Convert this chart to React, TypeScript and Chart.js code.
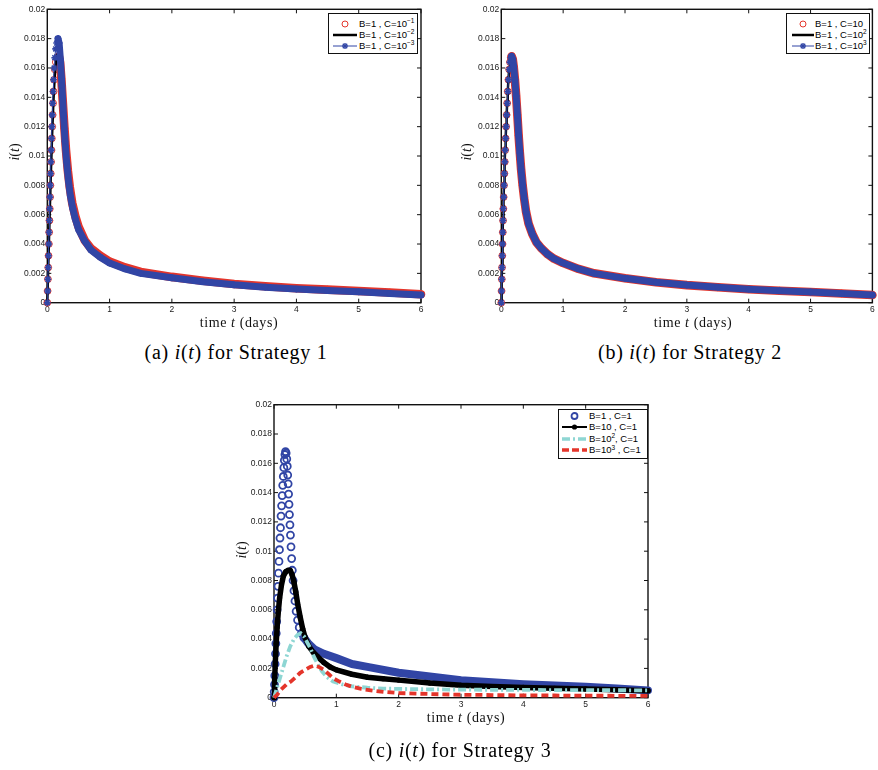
import React, { useEffect, useRef } from 'react';
import { Chart, registerables } from 'chart.js';
Chart.register(...registerables);

// ---------------- axes ----------------
const xTickValues = [0, 1, 2, 3, 4, 5, 6];
const xTickLabels = ['0', '1', '2', '3', '4', '5', '6'];
const yTickValues = [0, 0.002, 0.004, 0.006, 0.008, 0.01, 0.012, 0.014, 0.016, 0.018, 0.02];
const yTickLabels = ['0', '0.002', '0.004', '0.006', '0.008', '0.01', '0.012', '0.014', '0.016', '0.018', '0.02'];

// ---------------- (a) Strategy 1 ----------------
const s1RedTime = [0, 0.005, 0.01, 0.015, 0.02, 0.025, 0.03, 0.035, 0.04, 0.045, 0.05, 0.056, 0.061, 0.067, 0.073, 0.079, 0.086, 0.093, 0.101, 0.11, 0.121, 0.137, 0.158, 0.185, 0.205, 0.225, 0.25, 0.275, 0.3, 0.33, 0.36, 0.4, 0.45, 0.5, 0.6, 0.7, 0.85, 1, 1.25, 1.5, 2, 2.5, 3, 3.5, 4, 4.5, 5, 5.5, 6];
const s1RedI = [0, 0.0008, 0.0016, 0.0024, 0.0032, 0.004, 0.0048, 0.0056, 0.0064, 0.0072, 0.008, 0.0088, 0.0096, 0.0104, 0.0112, 0.012, 0.0128, 0.0136, 0.0144, 0.0152, 0.0159, 0.0164, 0.0167, 0.0168, 0.0164, 0.0153, 0.0136, 0.0119, 0.0104, 0.009, 0.0079, 0.0068, 0.0059, 0.0052, 0.00425, 0.0037, 0.0032, 0.0028, 0.0024, 0.0021, 0.00176, 0.0015, 0.00128, 0.00112, 0.00099, 0.00089, 0.0008, 0.00069, 0.00058];
const s1BlackTime = [0, 0.02, 0.04, 0.06, 0.08, 0.1, 0.12, 0.14, 0.16, 0.175, 0.19, 0.21, 0.24, 0.27, 0.3, 0.35, 0.4, 0.5, 0.6, 0.8, 1, 1.5, 2, 3, 4, 5, 6];
const s1BlackI = [0, 0.0032, 0.0063, 0.0092, 0.0118, 0.0139, 0.0155, 0.0165, 0.0169, 0.017, 0.0166, 0.0155, 0.0135, 0.0116, 0.0099, 0.0079, 0.0066, 0.005, 0.0042, 0.0032, 0.0027, 0.002, 0.0017, 0.0012, 0.00093, 0.00074, 0.00052];
const s1BlueTime = [0, 0.005, 0.009, 0.014, 0.018, 0.023, 0.028, 0.032, 0.037, 0.042, 0.047, 0.052, 0.057, 0.062, 0.068, 0.073, 0.079, 0.085, 0.092, 0.1, 0.109, 0.12, 0.134, 0.15, 0.172, 0.19, 0.21, 0.235, 0.26, 0.285, 0.31, 0.34, 0.37, 0.41, 0.45, 0.5, 0.6, 0.7, 0.85, 1, 1.25, 1.5, 2, 2.5, 3, 3.5, 4, 4.5, 5, 5.5, 6];
const s1BlueI = [0, 0.0008, 0.0016, 0.0024, 0.0032, 0.004, 0.0048, 0.0056, 0.0064, 0.0072, 0.008, 0.0088, 0.0096, 0.0104, 0.0112, 0.012, 0.0128, 0.0136, 0.0144, 0.0152, 0.016, 0.0167, 0.0173, 0.0177, 0.018, 0.0177, 0.0166, 0.0148, 0.0128, 0.011, 0.0096, 0.0083, 0.0073, 0.0064, 0.0057, 0.005, 0.0042, 0.0036, 0.0031, 0.0027, 0.0023, 0.002, 0.0017, 0.00143, 0.00122, 0.00106, 0.00093, 0.00083, 0.00074, 0.00063, 0.00052];

// ---------------- (b) Strategy 2 (the three curves coincide) ----------------
const s2Time = [0, 0.004, 0.008, 0.012, 0.016, 0.02, 0.024, 0.028, 0.033, 0.038, 0.044, 0.05, 0.056, 0.063, 0.07, 0.078, 0.086, 0.095, 0.104, 0.115, 0.127, 0.14, 0.153, 0.167, 0.185, 0.2, 0.22, 0.24, 0.26, 0.28, 0.3, 0.32, 0.345, 0.37, 0.4, 0.44, 0.5, 0.57, 0.65, 0.75, 0.85, 1, 1.25, 1.5, 2, 2.5, 3, 3.5, 4, 4.5, 5, 5.5, 6];
const s2I = [0, 0.0008, 0.0016, 0.0024, 0.0032, 0.004, 0.0048, 0.0056, 0.0064, 0.0072, 0.008, 0.0088, 0.0096, 0.0104, 0.0112, 0.012, 0.0128, 0.0136, 0.0144, 0.0152, 0.0159, 0.0164, 0.0167, 0.0168, 0.0166, 0.0161, 0.0152, 0.0141, 0.0128, 0.0114, 0.0102, 0.0091, 0.008, 0.0071, 0.0062, 0.0054, 0.0047, 0.0041, 0.0037, 0.0033, 0.003, 0.0027, 0.0023, 0.002, 0.00166, 0.0014, 0.0012, 0.00105, 0.00092, 0.00082, 0.00073, 0.00063, 0.00052];

// ---------------- (c) Strategy 3 ----------------
const s3BlueTime = [0, 0.003, 0.008, 0.013, 0.018, 0.024, 0.03, 0.036, 0.043, 0.05, 0.057, 0.064, 0.072, 0.08, 0.088, 0.096, 0.104, 0.113, 0.122, 0.131, 0.14, 0.149, 0.158, 0.166, 0.175, 0.185, 0.195, 0.205, 0.213, 0.22, 0.227, 0.234, 0.241, 0.248, 0.256, 0.264, 0.273, 0.283, 0.294, 0.306, 0.32, 0.336, 0.355, 0.378, 0.405, 0.44, 0.48, 0.55, 0.65, 0.8, 1, 1.25, 1.5, 2, 2.5, 3, 3.5, 4, 4.5, 5, 5.5, 6];
const s3BlueI = [0, 0.0004, 0.0009, 0.0015, 0.0023, 0.003, 0.0037, 0.0044, 0.0052, 0.006, 0.0068, 0.0076, 0.0085, 0.0093, 0.0101, 0.0109, 0.0116, 0.0124, 0.0131, 0.0138, 0.0145, 0.0151, 0.0157, 0.0162, 0.0166, 0.0168, 0.0167, 0.0163, 0.0158, 0.0152, 0.0146, 0.0139, 0.0132, 0.0125, 0.0118, 0.0111, 0.0103, 0.0095, 0.0087, 0.008, 0.0073, 0.0066, 0.0059, 0.0053, 0.0048, 0.0044, 0.0041, 0.0037, 0.0033, 0.003, 0.0027, 0.0023, 0.0021, 0.0017, 0.00145, 0.0012, 0.00105, 0.00092, 0.00083, 0.00074, 0.00063, 0.0005];
const s3BlackTime = [0, 0.01, 0.02, 0.035, 0.05, 0.07, 0.09, 0.12, 0.15, 0.19, 0.23, 0.26, 0.29, 0.32, 0.35, 0.38, 0.42, 0.46, 0.5, 0.56, 0.63, 0.7, 0.8, 0.9, 1.0, 1.25, 1.5, 1.75, 2, 2.5, 3, 3.5, 4, 4.5, 5, 5.5, 6];
const s3BlackI = [0, 0.0012, 0.0023, 0.0037, 0.0048, 0.0059, 0.0068, 0.0077, 0.0083, 0.0086, 0.0087, 0.0087, 0.0084, 0.0079, 0.0072, 0.0064, 0.0055, 0.0047, 0.0041, 0.0035, 0.0031, 0.0028, 0.0024, 0.0021, 0.0019, 0.0016, 0.0014, 0.0013, 0.0012, 0.001, 0.00085, 0.00076, 0.0007, 0.00064, 0.0006, 0.00054, 0.00048];
const s3CyanTime = [0, 0.05, 0.1, 0.15, 0.2, 0.26, 0.32, 0.38, 0.43, 0.48, 0.53, 0.58, 0.64, 0.7, 0.77, 0.85, 0.95, 1.1, 1.25, 1.5, 1.75, 2, 2.5, 3, 3.5, 4, 4.5, 5, 5.5, 6];
const s3CyanI = [0, 0.0007, 0.0014, 0.0021, 0.0028, 0.0035, 0.004, 0.0043, 0.0044, 0.0042, 0.0038, 0.0034, 0.0028, 0.0023, 0.0018, 0.0014, 0.0011, 0.0009, 0.00078, 0.00068, 0.00062, 0.0006, 0.00057, 0.00055, 0.00054, 0.00053, 0.00052, 0.00052, 0.00051, 0.0005];
const s3RedTime = [0, 0.05, 0.1, 0.15, 0.2, 0.27, 0.35, 0.42, 0.5, 0.58, 0.65, 0.72, 0.8, 0.88, 0.96, 1.05, 1.15, 1.25, 1.4, 1.6, 1.8, 2, 2.5, 3, 3.5, 4, 4.5, 5, 5.5, 6];
const s3RedI = [0, 0.0002, 0.0005, 0.0007, 0.0009, 0.0011, 0.0014, 0.0017, 0.0019, 0.0021, 0.0022, 0.0021, 0.0019, 0.0016, 0.0013, 0.0011, 0.0009, 0.00075, 0.0006, 0.00047, 0.00038, 0.00032, 0.00025, 0.0002, 0.00018, 0.00016, 0.00015, 0.00014, 0.00013, 0.00012];

// ---------------- styles ----------------
const RED = '#e4352b';
const BLUE = '#3145a5';
const CYAN = '#8ed6d3';
const BLACK = '#000000';
const CLEAR = 'rgba(0,0,0,0)';
const TICK_FONT = '"Liberation Sans", Arial, sans-serif';
const SERIF = '"Liberation Serif", "Times New Roman", serif';

const pts = (t: number[], v: number[]) => t.map((x, k) => ({ x, y: v[k] }));

const band = (from: number, color: string, width: number, thinColor: string, thinWidth: number) => ({
  borderColor: (c: any) => (c.p0.parsed.x >= from ? color : thinColor),
  borderWidth: (c: any) => (c.p0.parsed.x >= from ? width : thinWidth),
});

const boxPlugin = {
  id: 'matlabBox',
  beforeDatasetsDraw(chart: any) {
    const { ctx, chartArea: a, scales } = chart;
    const x = scales.x;
    const y = scales.y;
    ctx.save();
    ctx.strokeStyle = '#111';
    ctx.lineWidth = 1.4;
    ctx.strokeRect(a.left, a.top, a.right - a.left, a.bottom - a.top);
    ctx.lineWidth = 1;
    const L = 4;
    ctx.beginPath();
    for (const v of xTickValues) {
      const px = x.getPixelForValue(v);
      ctx.moveTo(px, a.bottom); ctx.lineTo(px, a.bottom - L);
      ctx.moveTo(px, a.top); ctx.lineTo(px, a.top + L);
    }
    for (const v of yTickValues) {
      const py = y.getPixelForValue(v);
      ctx.moveTo(a.left, py); ctx.lineTo(a.left + L, py);
      ctx.moveTo(a.right, py); ctx.lineTo(a.right - L, py);
    }
    ctx.stroke();
    ctx.restore();
  },
};

type PlotProps = {
  left: number; top: number; width: number; height: number;
  yAxisWidth: number; xAxisHeight: number; padTop: number; padRight: number;
  datasets: any[];
};

function Plot({ left, top, width, height, yAxisWidth, xAxisHeight, padTop, padRight, datasets }: PlotProps) {
  const ref = useRef<HTMLCanvasElement>(null);
  useEffect(() => {
    const chart = new Chart(ref.current as HTMLCanvasElement, {
      type: 'line',
      data: { datasets },
      options: {
        animation: false,
        responsive: false,
        devicePixelRatio: 1,
        layout: { padding: { top: padTop, right: padRight, left: 0, bottom: 0 } },
        plugins: { legend: { display: false }, tooltip: { enabled: false } },
        elements: { line: { tension: 0 } },
        scales: {
          x: {
            type: 'linear', min: 0, max: 6,
            grid: { display: false, drawTicks: false }, border: { display: false },
            afterBuildTicks: (s: any) => { s.ticks = xTickValues.map((v) => ({ value: v })); },
            afterFit: (s: any) => { s.height = xAxisHeight; },
            ticks: {
              autoSkip: false, maxRotation: 0, padding: 2, color: '#222',
              font: { family: TICK_FONT, size: 8.5 },
              callback: (_v: any, i: number) => xTickLabels[i],
            },
          },
          y: {
            type: 'linear', min: 0, max: 0.02,
            grid: { display: false, drawTicks: false }, border: { display: false },
            afterBuildTicks: (s: any) => { s.ticks = yTickValues.map((v) => ({ value: v })); },
            afterFit: (s: any) => { s.width = yAxisWidth; },
            ticks: {
              autoSkip: false, padding: 2, color: '#222',
              font: { family: TICK_FONT, size: 8.5 },
              callback: (_v: any, i: number) => yTickLabels[i],
            },
          },
        },
      } as any,
      plugins: [boxPlugin],
    });
    return () => chart.destroy();
  }, []);
  return (
    <canvas ref={ref} width={width} height={height}
      style={{ position: 'absolute', left, top, width, height }} />
  );
}

// ---------------- datasets ----------------
function redCircles(t: number[], v: number[], peak: number) {
  return {
    data: pts(t, v), order: 2, clip: 8,
    pointStyle: 'circle', pointRadius: 3.4, pointBorderWidth: 1,
    pointBorderColor: RED, pointBackgroundColor: CLEAR,
    borderColor: CLEAR, borderWidth: 1, borderJoinStyle: 'round', borderCapStyle: 'round',
    segment: band(peak, RED, 8.6, CLEAR, 1),
  };
}
function blackLine(t: number[], v: number[]) {
  return {
    data: pts(t, v), order: 1, clip: 8, pointRadius: 0,
    borderColor: BLACK, borderWidth: 2.5, borderJoinStyle: 'round',
  };
}
function blueStars(t: number[], v: number[], peak: number) {
  return {
    data: pts(t, v), order: 0, clip: 8,
    pointStyle: 'star', pointRadius: 3.4, pointBorderWidth: 1.6,
    pointBorderColor: BLUE, pointBackgroundColor: BLUE,
    borderColor: BLUE, borderWidth: 1, borderJoinStyle: 'round', borderCapStyle: 'round',
    segment: band(peak, BLUE, 7, BLUE, 1),
  };
}

const dataA = [
  redCircles(s1RedTime, s1RedI, 0.185),
  blackLine(s1BlackTime, s1BlackI),
  blueStars(s1BlueTime, s1BlueI, 0.172),
];
const dataB = [
  redCircles(s2Time, s2I, 0.167),
  blackLine(s2Time, s2I),
  blueStars(s2Time, s2I, 0.167),
];
const dataC = [
  {
    data: pts(s3BlueTime, s3BlueI), order: 3, clip: 8,
    pointStyle: 'circle', pointBorderWidth: 1.8,
    pointRadius: (c: any) => (c.raw && c.raw.x < 0.5 ? 3.5 : 0),
    pointBorderColor: BLUE, pointBackgroundColor: CLEAR,
    borderColor: CLEAR, borderWidth: 1, borderJoinStyle: 'round', borderCapStyle: 'round',
    segment: band(0.48, BLUE, 8, CLEAR, 1),
  },
  {
    data: pts(s3BlackTime, s3BlackI), order: 2, clip: 8,
    pointStyle: 'circle', pointRadius: 2.6, pointBorderWidth: 0, pointBackgroundColor: BLACK,
    borderColor: BLACK, borderWidth: 5.5, borderJoinStyle: 'round', borderCapStyle: 'round',
  },
  {
    data: pts(s3CyanTime, s3CyanI), order: 1, clip: 8, pointRadius: 0,
    borderColor: CYAN, borderWidth: 3.8, borderDash: [8, 3, 2, 3],
  },
  {
    data: pts(s3RedTime, s3RedI), order: 0, clip: 8, pointRadius: 0,
    borderColor: RED, borderWidth: 3.8, borderDash: [7, 4],
  },
];

// ---------------- HTML text pieces ----------------
const Sup = ({ children }: { children: React.ReactNode }) => (
  <span style={{ fontSize: 6.5, position: 'relative', top: -3.5 }}>{children}</span>
);

type Row = { y: number; sample: React.ReactNode; label: React.ReactNode };
function Legend({ left, top, width, height, sampleX, sampleW, textX, rows }:
  { left: number; top: number; width: number; height: number; sampleX: number; sampleW: number; textX: number; rows: Row[] }) {
  return (
    <div style={{ position: 'absolute', left, top, width, height, border: '1px solid #111', background: '#fff', boxSizing: 'border-box' }}>
      {rows.map((r, k) => (
        <React.Fragment key={k}>
          <svg style={{ position: 'absolute', left: sampleX, top: r.y - 5 }} width={sampleW} height={10}>{r.sample}</svg>
          <div style={{ position: 'absolute', left: textX, top: r.y - 6, height: 12, lineHeight: '12px', fontFamily: TICK_FONT, fontSize: 9.5, whiteSpace: 'nowrap', color: '#000' }}>{r.label}</div>
        </React.Fragment>
      ))}
    </div>
  );
}

const starSample = (w: number) => (
  <g>
    <line x1={0} y1={5} x2={w} y2={5} stroke={BLUE} strokeWidth={1} />
    <g stroke={BLUE} strokeWidth={1.4}>
      <line x1={w / 2 - 3} y1={5} x2={w / 2 + 3} y2={5} />
      <line x1={w / 2} y1={2} x2={w / 2} y2={8} />
      <line x1={w / 2 - 2.2} y1={2.8} x2={w / 2 + 2.2} y2={7.2} />
      <line x1={w / 2 - 2.2} y1={7.2} x2={w / 2 + 2.2} y2={2.8} />
    </g>
  </g>
);

function XTitle({ cx, cy }: { cx: number; cy: number }) {
  return (
    <div style={{ position: 'absolute', left: cx - 80, top: cy - 9, width: 160, textAlign: 'center', fontFamily: SERIF, fontSize: 14, letterSpacing: 0.6, lineHeight: '18px', color: '#111' }}>
      time <i>t</i> (days)
    </div>
  );
}
function YTitle({ cx, cy }: { cx: number; cy: number }) {
  return (
    <div style={{ position: 'absolute', left: cx - 20, top: cy - 9, width: 40, height: 18, textAlign: 'center', fontFamily: SERIF, fontSize: 14, lineHeight: '18px', transform: 'rotate(-90deg)', color: '#111' }}>
      <i>i</i>(<i>t</i>)
    </div>
  );
}
function Caption({ cx, cy, letter, n }: { cx: number; cy: number; letter: string; n: number }) {
  return (
    <div style={{ position: 'absolute', left: cx - 160, top: cy - 12, width: 320, textAlign: 'center', fontFamily: SERIF, fontSize: 20, letterSpacing: 0.7, lineHeight: '24px', color: '#000' }}>
      ({letter}) <i>i</i>(<i>t</i>) for Strategy {n}
    </div>
  );
}

export default function App() {
  return (
    <div style={{ position: 'absolute', left: 0, top: 0, width: 878, height: 770, background: '#fff', overflow: 'hidden' }}>
      <Plot left={0} top={0} width={440} height={318} yAxisWidth={47.3} xAxisHeight={15.3} padTop={9.3} padRight={19} datasets={dataA} />
      <Plot left={440} top={0} width={438} height={318} yAxisWidth={61.3} xAxisHeight={15.3} padTop={9.3} padRight={2.7} datasets={dataB} />
      <Plot left={220} top={396} width={440} height={318} yAxisWidth={54} xAxisHeight={16.3} padTop={8.7} padRight={12} datasets={dataC} />

      <Legend left={328} top={12.5} width={90} height={41} sampleX={4} sampleW={24} textX={30}
        rows={[
          { y: 10, sample: <circle cx={12} cy={5} r={3} fill="none" stroke={RED} strokeWidth={1} />, label: <>B=1 , C=10<Sup>−1</Sup></> },
          { y: 21, sample: <line x1={0} y1={5} x2={24} y2={5} stroke={BLACK} strokeWidth={2.5} />, label: <>B=1 , C=10<Sup>−2</Sup></> },
          { y: 32, sample: starSample(24), label: <>B=1 , C=10<Sup>−3</Sup></> },
        ]} />
      <Legend left={786} top={12.5} width={84} height={41} sampleX={5} sampleW={22} textX={28}
        rows={[
          { y: 10, sample: <circle cx={11} cy={5} r={3} fill="none" stroke={RED} strokeWidth={1} />, label: <>B=1 , C=10</> },
          { y: 21, sample: <line x1={0} y1={5} x2={22} y2={5} stroke={BLACK} strokeWidth={2.5} />, label: <>B=1 , C=10<Sup>2</Sup></> },
          { y: 32, sample: starSample(22), label: <>B=1 , C=10<Sup>3</Sup></> },
        ]} />
      <Legend left={558} top={409} width={90} height={50} sampleX={3} sampleW={25} textX={30}
        rows={[
          { y: 6, sample: <circle cx={12.5} cy={5} r={3} fill="none" stroke={BLUE} strokeWidth={1.8} />, label: <>B=1 , C=1</> },
          { y: 17, sample: <g><line x1={0} y1={5} x2={25} y2={5} stroke={BLACK} strokeWidth={2} /><circle cx={12.5} cy={5} r={2.6} fill={BLACK} /></g>, label: <>B=10 , C=1</> },
          { y: 28.5, sample: <line x1={0} y1={5} x2={25} y2={5} stroke={CYAN} strokeWidth={3.5} strokeDasharray="8 3 2 3" />, label: <>B=10<Sup>2</Sup>, C=1</> },
          { y: 40, sample: <line x1={0} y1={5} x2={25} y2={5} stroke={RED} strokeWidth={3.5} strokeDasharray="7 3" />, label: <>B=10<Sup>3</Sup> , C=1</> },
        ]} />

      <XTitle cx={239} cy={323} />
      <XTitle cx={693} cy={323} />
      <XTitle cx={466} cy={718} />
      <YTitle cx={15} cy={152} />
      <YTitle cx={467} cy={152} />
      <YTitle cx={242} cy={550} />
      <Caption cx={236} cy={352} letter="a" n={1} />
      <Caption cx={690} cy={352} letter="b" n={2} />
      <Caption cx={460} cy={750} letter="c" n={3} />
    </div>
  );
}
